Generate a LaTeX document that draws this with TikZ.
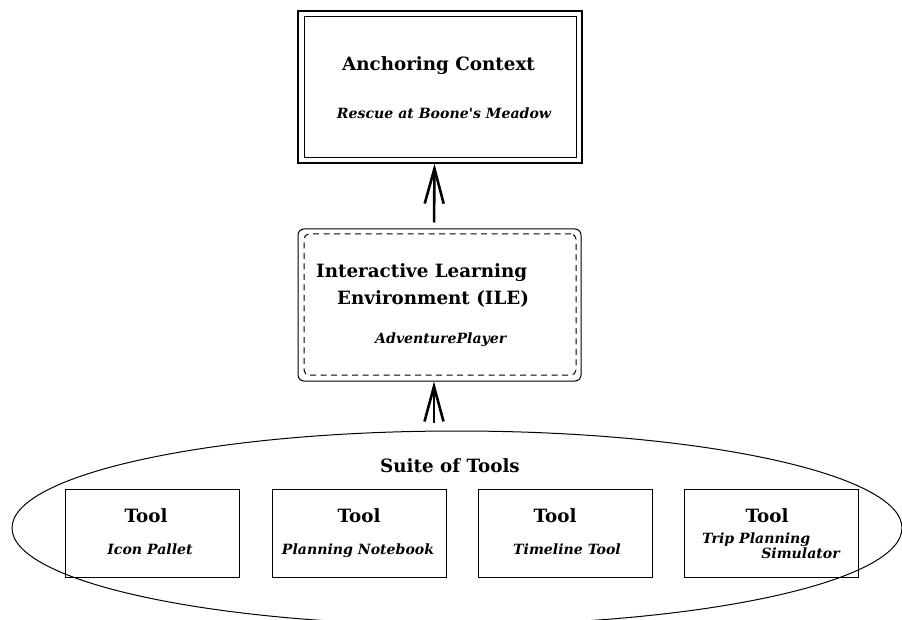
\documentclass[tikz,border=0pt]{standalone}
\usepackage{fontspec}
\setmainfont{DejaVu Serif}
\usetikzlibrary{arrows.meta,shapes.geometric}
\begin{document}
\begin{tikzpicture}[x=1pt,y=-1pt,
  frame/.style={draw, line width=1pt, inner sep=0pt},
  toolbox/.style={frame, minimum width=174pt, minimum height=88pt},
  bigtxt/.style={font=\fontsize{18.3}{21}\selectfont\bfseries, inner sep=0pt, anchor=base},
  smalltxt/.style={font=\fontsize{14.1}{17}\selectfont\bfseries\itshape, inner sep=0pt, anchor=base},
  uparrow/.style={line width=2.6pt, -{Straight Barb[length=35pt,width=19pt]}},
]
\useasboundingbox (0,0) rectangle (902,620);

% suite ellipse
\node[draw, line width=1pt, ellipse, minimum width=890pt, minimum height=194pt, inner sep=0pt] (suite) at (457,528) {};

% anchoring context (double frame)
\node[frame, line width=1.3pt, minimum width=284pt, minimum height=152pt] (anc) at (440,87) {};
\node[frame, minimum width=272pt, minimum height=141pt] (ancin) at (440,87.5) {};
\node[bigtxt] (anct) at (438.5,71) {Anchoring Context};
\node[smalltxt] (ancs) at (444,119) {Rescue at Boone\textquotesingle s Meadow};

% ILE (rounded, inner dashed)
\node[frame, rounded corners=6pt, minimum width=283pt, minimum height=152pt] (ile) at (439.5,305) {};
\node[frame, dashed, dash pattern=on 6pt off 4.5pt, rounded corners=5pt, minimum width=272pt, minimum height=141pt] (ilein) at (440,304.5) {};
\node[bigtxt, anchor=base west] (ilet1) at (316,278) {Interactive Learning};
\node[bigtxt, anchor=base west] (ilet2) at (337,305) {Environment (ILE)};
\node[smalltxt, anchor=base west] (iles) at (375,343) {AdventurePlayer};

% suite title
\node[bigtxt] (suitet) at (450,472) {Suite of Tools};

% tool boxes
\node[toolbox] (tool1) at (152,533) {};
\node[toolbox] (tool2) at (359,533) {};
\node[toolbox] (tool3) at (565,533) {};
\node[toolbox] (tool4) at (771.5,533) {};

\node[bigtxt] (tool1t) at (146,522) {Tool};
\node[smalltxt] (tool1s) at (150,554) {Icon Pallet};
\node[bigtxt] (tool2t) at (359,522) {Tool};
\node[smalltxt] (tool2s) at (358,554) {Planning Notebook};
\node[bigtxt] (tool3t) at (555,522) {Tool};
\node[smalltxt] (tool3s) at (567,554) {Timeline Tool};
\node[bigtxt] (tool4t) at (767,522) {Tool};
\node[smalltxt, anchor=base west] (tool4s1) at (702,543) {Trip Planning};
\node[smalltxt, anchor=base east] (tool4s2) at (840,558) {Simulator};

% arrows
\draw[uparrow, shorten <=6pt] ([xshift=-5.5pt]ile.north) -- ([xshift=-5.5pt]anc.south);
\draw[uparrow, shorten <=8pt] ([xshift=-23pt]suite.north) -- ([xshift=-5.5pt]ile.south);
\end{tikzpicture}
\end{document}
